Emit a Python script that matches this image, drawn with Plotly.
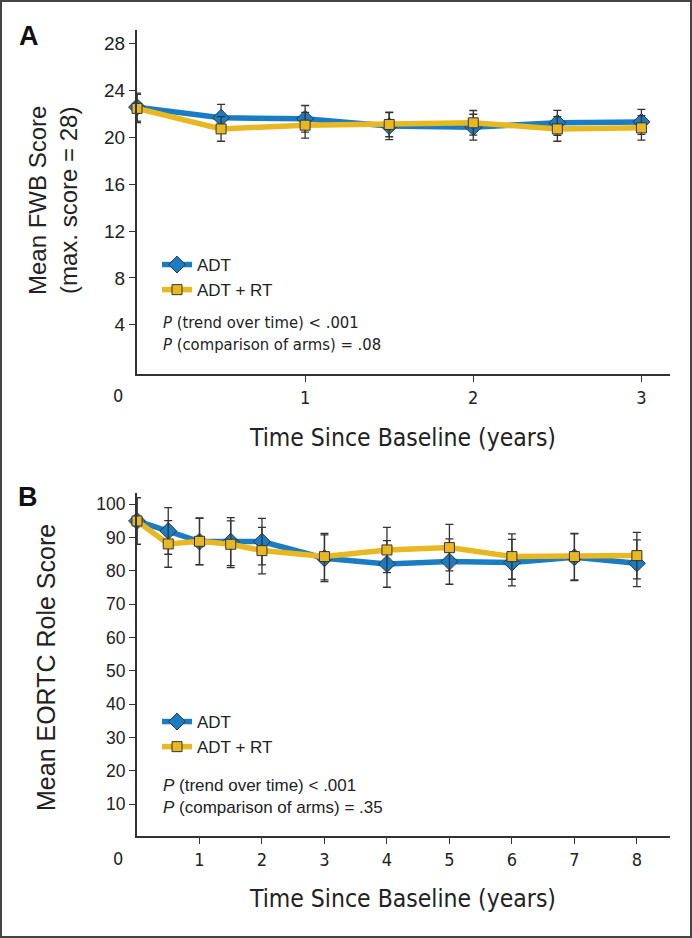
import plotly.graph_objects as go

# ---------------- data ----------------
# Panel A: FWB score
a_time = [0, 0.5, 1, 1.5, 2, 2.5, 3]
a_adt = [22.57, 21.66, 21.57, 20.95, 20.86, 21.23, 21.31]
a_adt_err = [1.2, 1.14, 1.14, 1.15, 1.1, 1.06, 1.06]
a_adtrt = [22.46, 20.71, 21.03, 21.09, 21.23, 20.71, 20.80]
a_adtrt_err = [1.2, 1.05, 1.1, 1.05, 1.05, 1.05, 1.05]
a_xticks = [1, 2, 3]
a_yticks = [4, 8, 12, 16, 20, 24, 28]

# Panel B: EORTC role score
b_time = [0, 0.5, 1, 1.5, 2, 3, 4, 5, 6, 7, 8]
b_adt = [95.0, 92.0, 88.8, 88.8, 88.8, 83.8, 82.1, 82.8, 82.5, 84.1, 82.3]
b_adt_err = [7.0, 7.0, 7.0, 7.2, 7.0, 7.0, 7.0, 6.8, 7.0, 7.0, 7.0]
b_adtrt = [95.0, 88.1, 88.9, 88.0, 86.1, 84.3, 86.3, 87.0, 84.3, 84.3, 84.6]
b_adtrt_err = [7.0, 7.0, 7.0, 7.0, 7.0, 7.0, 6.8, 7.0, 6.8, 7.0, 7.0]
b_xticks = [1, 2, 3, 4, 5, 6, 7, 8]
b_yticks = [10, 20, 30, 40, 50, 60, 70, 80, 90, 100]

# ---------------- style ----------------
BLUE = "#1a7cc2"
YELLOW = "#e8b823"
DARK = "#333333"
NARROW = "DejaVu Sans Condensed, Liberation Sans Narrow, sans-serif"
REG = "Liberation Sans, Arial, Helvetica, sans-serif"
W, H = 692, 938

def px_x(p):
    return p / W

def px_y(p):
    return 1 - p / H

fig = go.Figure()

def add_series(x, y, err, name, color, symbol, size, xa, ya, legend):
    fig.add_trace(go.Scatter(
        x=x, y=y, name=name, mode="lines+markers",
        xaxis=xa, yaxis=ya, legend=legend, showlegend=True,
        line=dict(color=color, width=5.5),
        marker=dict(symbol=symbol, size=size, color=color,
                    line=dict(color=DARK, width=1)),
        error_y=dict(type="data", array=err, visible=True,
                     color=DARK, thickness=1.3, width=4),
        cliponaxis=False,
    ))

add_series(a_time, a_adt, a_adt_err, "ADT", BLUE, "diamond", 13, "x", "y", "legend")
add_series(a_time, a_adtrt, a_adtrt_err, "ADT + RT", YELLOW, "square", 10, "x", "y", "legend")
add_series(b_time, b_adt, b_adt_err, "ADT", BLUE, "diamond", 13, "x2", "y2", "legend2")
add_series(b_time, b_adtrt, b_adtrt_err, "ADT + RT", YELLOW, "square", 10, "x2", "y2", "legend2")

xdom = [px_x(137), px_x(670)]
axis_common = dict(showline=True, linecolor=DARK, linewidth=2, ticks="outside",
                   ticklen=6, tickwidth=1.3, tickcolor=DARK, showgrid=False,
                   zeroline=False, automargin=False)

fig.update_layout(
    width=W, height=H,
    margin=dict(l=0, r=0, t=0, b=0),
    paper_bgcolor="white", plot_bgcolor="white",
    font=dict(family=REG, color="#222222"),
    xaxis=dict(domain=xdom, range=[0, 3.17], tickvals=a_xticks, anchor="y",
               tickfont=dict(family=NARROW, size=18), **axis_common),
    yaxis=dict(domain=[px_y(374), px_y(30)], range=[-0.2, 29.15], tickvals=a_yticks,
               anchor="x", tickfont=dict(family=REG, size=19), **axis_common),
    xaxis2=dict(domain=xdom, range=[0, 8.53], tickvals=b_xticks, anchor="y2",
                tickfont=dict(family=NARROW, size=18), **axis_common),
    yaxis2=dict(domain=[px_y(836), px_y(493)], range=[0.4, 103.4], tickvals=b_yticks,
                anchor="x2", tickfont=dict(family=REG, size=17.5), **axis_common),
    legend=dict(x=px_x(157), y=px_y(247), xanchor="left", yanchor="top",
                font=dict(family=REG, size=17, color="#222222"),
                bgcolor="rgba(0,0,0,0)", tracegroupgap=0, itemwidth=30),
    legend2=dict(x=px_x(157), y=px_y(704), xanchor="left", yanchor="top",
                 font=dict(family=REG, size=17, color="#222222"),
                 bgcolor="rgba(0,0,0,0)", tracegroupgap=0, itemwidth=30),
    showlegend=True,
)

ann = []
# panel letters
ann.append(dict(text="<b>A</b>", x=px_x(17), y=px_y(36), xref="paper", yref="paper",
                xanchor="left", yanchor="middle", showarrow=False,
                font=dict(family=REG, size=27, color="#111111")))
ann.append(dict(text="<b>B</b>", x=px_x(16), y=px_y(497), xref="paper", yref="paper",
                xanchor="left", yanchor="middle", showarrow=False,
                font=dict(family=REG, size=27, color="#111111")))
# y titles
ann.append(dict(text="Mean FWB Score<br>(max. score = 28)", x=px_x(53), y=px_y(201),
                xref="paper", yref="paper", textangle=-90, showarrow=False,
                xanchor="center", yanchor="middle",
                font=dict(family=REG, size=24, color="#222222")))
ann.append(dict(text="Mean EORTC Role Score", x=px_x(46), y=px_y(668),
                xref="paper", yref="paper", textangle=-90, showarrow=False,
                xanchor="center", yanchor="middle",
                font=dict(family=REG, size=25, color="#222222")))
# x titles
ann.append(dict(text="Time Since Baseline (years)", x=px_x(402), y=px_y(437),
                xref="paper", yref="paper", showarrow=False,
                xanchor="center", yanchor="middle",
                font=dict(family=NARROW, size=24.5, color="#222222")))
ann.append(dict(text="Time Since Baseline (years)", x=px_x(402), y=px_y(898),
                xref="paper", yref="paper", showarrow=False,
                xanchor="center", yanchor="middle",
                font=dict(family=NARROW, size=24.5, color="#222222")))
# origin "0" labels
ann.append(dict(text="0", x=px_x(118), y=px_y(395), xref="paper", yref="paper",
                showarrow=False, xanchor="center", yanchor="middle",
                font=dict(family=NARROW, size=18, color="#222222")))
ann.append(dict(text="0", x=px_x(118), y=px_y(858), xref="paper", yref="paper",
                showarrow=False, xanchor="center", yanchor="middle",
                font=dict(family=NARROW, size=18, color="#222222")))
# P-value text
ann.append(dict(text="<i>P</i> (trend over time) &lt; .001", x=px_x(161), y=px_y(323),
                xref="paper", yref="paper", showarrow=False, xanchor="left", yanchor="middle",
                font=dict(family=NARROW, size=16.5, color="#222222")))
ann.append(dict(text="<i>P</i> (comparison of arms) = .08", x=px_x(161), y=px_y(344),
                xref="paper", yref="paper", showarrow=False, xanchor="left", yanchor="middle",
                font=dict(family=NARROW, size=16.5, color="#222222")))
ann.append(dict(text="<i>P</i> (trend over time) &lt; .001", x=px_x(161), y=px_y(785),
                xref="paper", yref="paper", showarrow=False, xanchor="left", yanchor="middle",
                font=dict(family=REG, size=17, color="#222222")))
ann.append(dict(text="<i>P</i> (comparison of arms) = .35", x=px_x(161), y=px_y(807),
                xref="paper", yref="paper", showarrow=False, xanchor="left", yanchor="middle",
                font=dict(family=REG, size=17, color="#222222")))
fig.update_layout(annotations=ann)

# outer frame
fig.add_shape(type="rect", xref="paper", yref="paper", x0=px_x(1), x1=px_x(691),
              y0=px_y(937), y1=px_y(1), line=dict(color="#444444", width=2))

fig.write_html("out.html", config={"displayModeBar": False},
               post_script="document.body.style.margin='0';document.body.style.padding='0';")
